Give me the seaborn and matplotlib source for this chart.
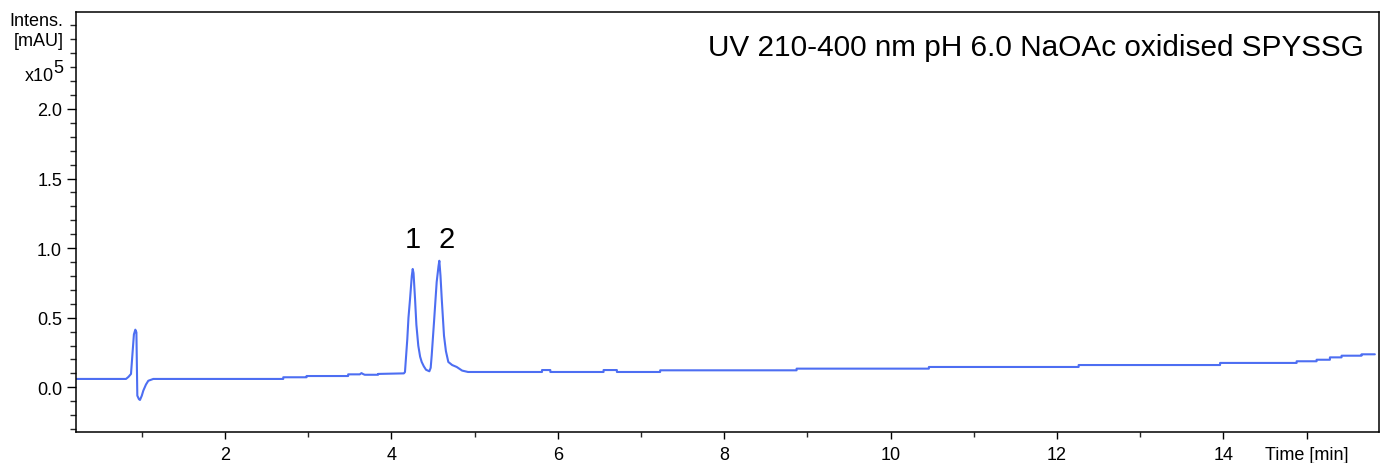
import matplotlib
matplotlib.use("Agg")
import matplotlib.pyplot as plt
from matplotlib.ticker import MultipleLocator, FixedLocator
import seaborn as sns
import pandas as pd

# ---- data (time in min, intensity in 1e5 mAU) ----
time_min = [
    0.209, 0.810, 0.840, 0.870, 0.886, 0.905, 0.922, 0.935, 0.946, 0.965,
    0.978, 1.000, 1.018, 1.050, 1.078, 1.138,
    2.700, 2.700, 2.980, 2.980, 3.480, 3.480, 3.620, 3.640, 3.660, 3.680,
    3.840, 3.840, 4.150,
    4.163, 4.191, 4.205, 4.224, 4.245, 4.256, 4.266, 4.284, 4.300, 4.323,
    4.345, 4.364, 4.390, 4.416, 4.456,
    4.472, 4.484, 4.512, 4.544, 4.566, 4.576, 4.590, 4.605, 4.632, 4.655,
    4.684, 4.730, 4.785, 4.850, 4.921,
    5.810, 5.810, 5.910, 5.910, 6.550, 6.550, 6.710, 6.710, 7.230, 7.230,
    8.870, 8.870, 10.460, 10.460, 12.260, 12.260, 13.960, 13.960,
    14.880, 14.880, 15.120, 15.120, 15.280, 15.280, 15.420, 15.420,
    15.660, 15.660, 15.820,
]
intensity = [
    0.060, 0.060, 0.075, 0.096, 0.227, 0.380, 0.414, 0.395, -0.060, -0.085,
    -0.091, -0.060, -0.024, 0.020, 0.047, 0.060,
    0.060, 0.072, 0.072, 0.081, 0.081, 0.093, 0.093, 0.102, 0.095, 0.090,
    0.090, 0.096, 0.100,
    0.110, 0.347, 0.500, 0.635, 0.800, 0.850, 0.820, 0.635, 0.450, 0.299,
    0.220, 0.182, 0.150, 0.126, 0.115,
    0.140, 0.227, 0.469, 0.756, 0.870, 0.909, 0.800, 0.635, 0.371, 0.260,
    0.182, 0.160, 0.146, 0.120, 0.110,
    0.110, 0.124, 0.124, 0.110, 0.110, 0.124, 0.124, 0.110, 0.110, 0.122,
    0.122, 0.134, 0.134, 0.146, 0.146, 0.160, 0.160, 0.175,
    0.175, 0.187, 0.187, 0.198, 0.198, 0.215, 0.215, 0.227,
    0.227, 0.237, 0.237,
]

x_major = [2, 4, 6, 8, 10, 12, 14, 15]
x_major_labels = ["2", "4", "6", "8", "10", "12", "14", "Time [min]"]
x_minor = [1, 3, 5, 7, 9, 11, 13]
y_major = [0.0, 0.5, 1.0, 1.5, 2.0]
y_major_labels = ["0.0", "0.5", "1.0", "1.5", "2.0"]

title_text = "UV 210-400 nm pH 6.0 NaOAc oxidised SPYSSG"
peak_labels = ["1", "2"]
peak_label_x = [4.263, 4.665]
peak_label_y = [1.065, 1.065]

# ---- styling ----
sns.set_theme(style="ticks")
plt.rcParams["font.family"] = ["Liberation Sans", "DejaVu Sans"]

W, H = 1383, 464
fig = plt.figure(figsize=(W / 100, H / 100), dpi=100)
left_px, right_px, top_px, bottom_px = 76, 1379, 13.3, 432.7
ax = fig.add_axes([left_px / W, 1 - bottom_px / H,
                   (right_px - left_px) / W, (bottom_px - top_px) / H])

df = pd.DataFrame({"Time": time_min, "Intensity": intensity})
sns.lineplot(data=df, x="Time", y="Intensity", ax=ax, estimator=None,
             sort=False, color="#4d6ef2", linewidth=1.5)

ax.set_xlim(0.209, 15.87)
ax.set_ylim(-0.319, 2.694)
ax.set_xlabel("")
ax.set_ylabel("")

ax.xaxis.set_major_locator(FixedLocator(x_major))
ax.set_xticklabels(x_major_labels)
ax.xaxis.set_minor_locator(FixedLocator(x_minor))
ax.yaxis.set_major_locator(FixedLocator(y_major))
ax.set_yticklabels(y_major_labels)
ax.yaxis.set_minor_locator(MultipleLocator(0.1))

for s in ax.spines.values():
    s.set_visible(True)
    s.set_color("black")
    s.set_linewidth(1.1)

ax.tick_params(axis="x", which="major", direction="out", length=5, width=1,
               pad=5, labelsize=13, colors="black")
ax.tick_params(axis="x", which="minor", direction="out", length=3.5, width=1)
ax.tick_params(axis="y", which="major", direction="out", length=6.5, width=1,
               pad=3.5, labelsize=13, colors="black")
ax.tick_params(axis="y", which="minor", direction="out", length=4.3, width=1)

# axis unit labels at top of y axis
for txt, yv in [("Intens.", 2.634), ("[mAU]", 2.49)]:
    ax.annotate(txt, xy=(0, yv), xycoords=("axes fraction", "data"),
                xytext=(-9.0, 0), textcoords="offset points",
                ha="right", va="center", fontsize=13, color="black")
ax.annotate("x10", xy=(0, 2.24), xycoords=("axes fraction", "data"),
            xytext=(-16.0, 0), textcoords="offset points",
            ha="right", va="center", fontsize=13, color="black")
ax.annotate("5", xy=(0, 2.30), xycoords=("axes fraction", "data"),
            xytext=(-9.0, 0), textcoords="offset points",
            ha="right", va="center", fontsize=13, color="black")

ax.text((1364 - left_px) / (right_px - left_px),
        1 - (48 - top_px) / (bottom_px - top_px),
        title_text, transform=ax.transAxes, ha="right", va="center",
        fontsize=21.4, color="black")

for lab, lx, ly in zip(peak_labels, peak_label_x, peak_label_y):
    ax.text(lx, ly, lab, ha="center", va="center", fontsize=21, color="black")

fig.savefig("out.png", dpi=100)
